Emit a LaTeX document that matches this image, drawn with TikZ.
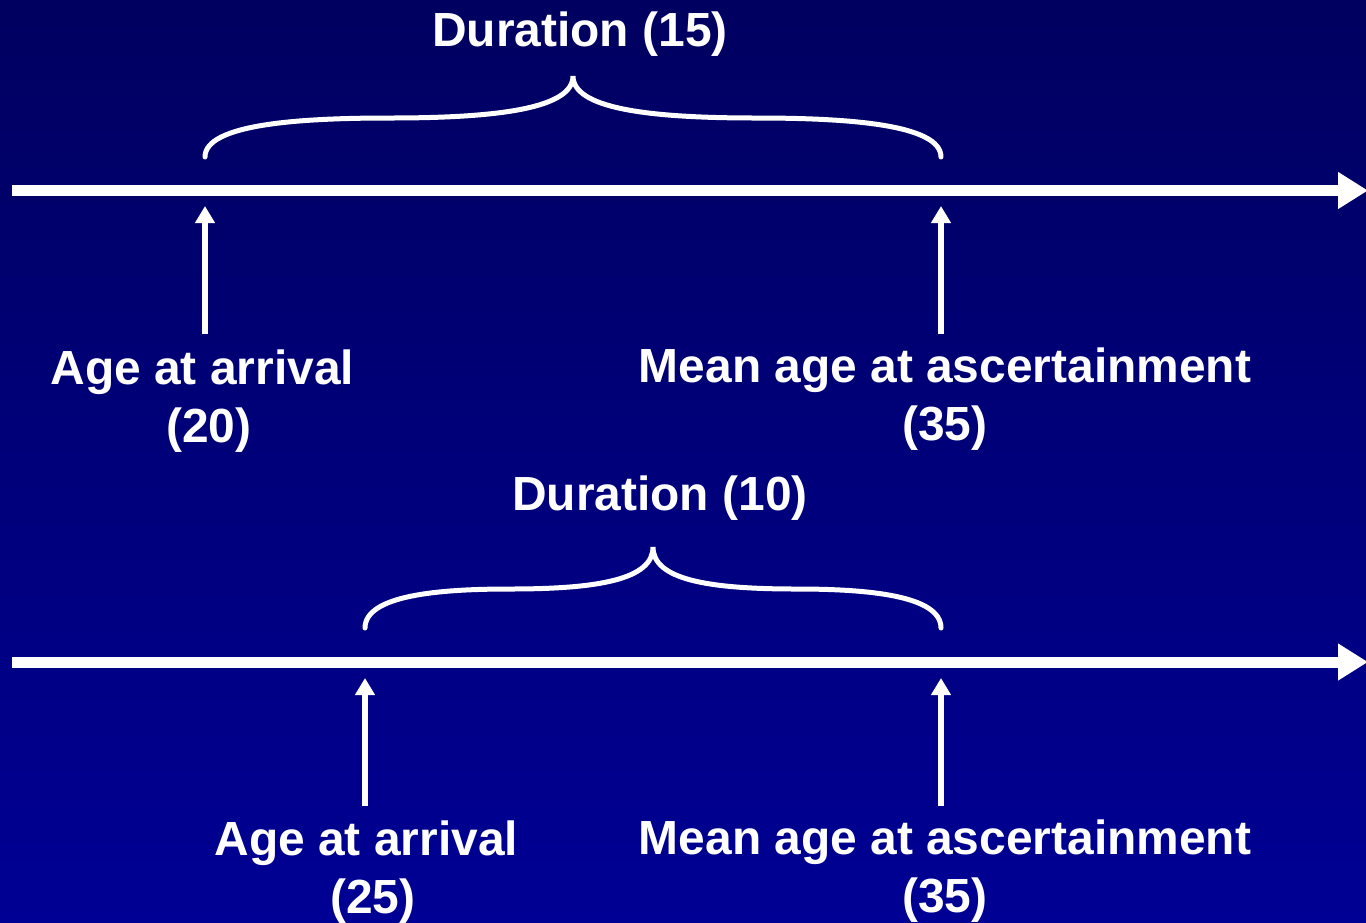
\documentclass[tikz,border=0pt]{standalone}
\usepackage{fontspec}
\setmainfont{Liberation Sans}
\usetikzlibrary{arrows.meta}
\definecolor{bgtop}{RGB}{0,0,96}
\definecolor{bgbot}{RGB}{0,0,148}
\tikzset{
  axis/.style={draw=white, line width=11pt, -{Triangle[length=30pt,width=35pt]}},
  uparrow/.style={draw=white, line width=6pt, -{Triangle[length=17pt,width=19pt]}},
  brace/.style={draw=white, line width=5pt, line cap=round},
  lbl/.style={text=white, font=\fontsize{47.9}{58}\selectfont\bfseries, align=center, inner sep=0pt},
}
\newcommand{\trsp}{\rule{0.278em}{0pt}}
\begin{document}
\begin{tikzpicture}[x=1pt,y=-1pt]
\shade[top color=bgtop, bottom color=bgbot] (0,0) rectangle (1366,922);
\useasboundingbox (0,0) rectangle (1366,922);

% top timeline
\coordinate (a1s) at (12,190.5);
\coordinate (a1e) at (1368,190.5);
\draw[axis] (a1s) -- (a1e);
\node[lbl, anchor=base] (dur1) at (580,46) {Duration (15)};
\node[lbl, anchor=base] (arr1) at (209,442) {Age at arrival\trsp\\(20)};
\node[lbl, anchor=base] (asc1) at (945,440) {Mean age at ascertainment\\(35)};
\coordinate (u1a) at (205,334);
\coordinate (u1b) at (205,206);
\coordinate (u2a) at (941,334);
\coordinate (u2b) at (941,206);
\draw[uparrow] (u1a) -- (u1b);
\draw[uparrow] (u2a) -- (u2b);
\coordinate (b1l) at (205,157);
\coordinate (b1m) at (573,76);
\coordinate (b1r) at (941,157);
\draw[brace] (b1l) .. controls (205,124) and (300,118) .. (390,118)
  .. controls (500,118) and (573,108) .. (b1m)
  .. controls (573,108) and (646,118) .. (756,118)
  .. controls (846,118) and (941,124) .. (b1r);

% bottom timeline
\coordinate (a2s) at (12,662);
\coordinate (a2e) at (1368,662);
\draw[axis] (a2s) -- (a2e);
\node[lbl, anchor=base] (dur2) at (660,510) {Duration (10)};
\node[lbl, anchor=base] (arr2) at (373,913) {Age at arrival\trsp\\(25)};
\node[lbl, anchor=base] (asc2) at (945,912) {Mean age at ascertainment\\(35)};
\coordinate (u3a) at (365,806);
\coordinate (u3b) at (365,678);
\coordinate (u4a) at (941,806);
\coordinate (u4b) at (941,678);
\draw[uparrow] (u3a) -- (u3b);
\draw[uparrow] (u4a) -- (u4b);
\coordinate (b2l) at (365,628);
\coordinate (b2m) at (653,547);
\coordinate (b2r) at (941,628);
\draw[brace] (b2l) .. controls (365,595) and (440,589) .. (510,589)
  .. controls (600,589) and (653,579) .. (b2m)
  .. controls (653,579) and (706,589) .. (796,589)
  .. controls (866,589) and (941,595) .. (b2r);
\end{tikzpicture}
\end{document}
